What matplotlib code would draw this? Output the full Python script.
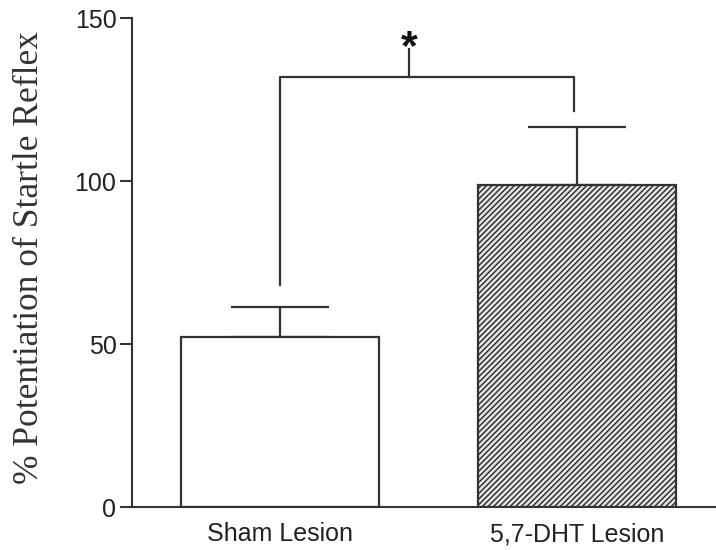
import numpy as np
import matplotlib
matplotlib.use('Agg')
import matplotlib.pyplot as plt

# Dane
groups = ['Sham Lesion', '5,7-DHT Lesion']
means = [52.2, 98.8]
sem = [9.1, 17.9]
bracket_x = [0.0, 0.0, 0.99, 0.99]
bracket_y = [68.1, 132.0, 132.0, 121.6]
star_x = 0.435
star_tick = [132.0, 140.5]
y_ticks = [0, 50, 100, 150]

plt.rcParams['hatch.color'] = '#707070'
plt.rcParams['hatch.linewidth'] = 1.1

fig = plt.figure(figsize=(7.16, 5.5), dpi=100)
ax = fig.add_axes([0.184, 0.078, 0.816, 0.889])

x = np.arange(len(groups))
dark = '#333333'
ax.bar(x[0], means[0], width=0.667, color='white', edgecolor=dark, linewidth=1.6, zorder=2)
ax.bar(x[1], means[1], width=0.667, color='#e6e6e6', edgecolor=dark, linewidth=1.6,
       hatch='//////', zorder=2)
ax.errorbar(x, means, yerr=[np.zeros(len(sem)), sem], fmt='none', ecolor=dark,
            elinewidth=1.6, capsize=35.5, capthick=1.6, zorder=1)

# Nawias istotności
ax.plot(bracket_x, bracket_y, color=dark, linewidth=1.6, clip_on=False)
ax.plot([star_x, star_x], star_tick, color=dark, linewidth=1.6, clip_on=False)
ax.text(star_x, 137.5, '*', ha='center', va='baseline', fontsize=31,
        fontweight='bold', family='Liberation Sans', color='#111111')

ax.set_xlim(-0.5, 1.468)
ax.set_ylim(0, 150)
ax.set_yticks(y_ticks)
ax.set_xticks(x)
ax.set_xticklabels(groups)

for s in ['top', 'right']:
    ax.spines[s].set_visible(False)
for s in ['left', 'bottom']:
    ax.spines[s].set_linewidth(1.5)
    ax.spines[s].set_color(dark)

ax.tick_params(axis='y', length=9, width=1.5, color=dark, pad=2,
               labelsize=18, labelcolor='#222222')
ax.tick_params(axis='x', length=0, pad=11, labelsize=18, labelcolor='#222222')
for lbl in ax.get_xticklabels() + ax.get_yticklabels():
    lbl.set_family('Liberation Sans')

ax.set_ylabel('% Potentiation of Startle Reflex', family='Liberation Serif',
              fontsize=25.5, color='#333333')
ax.yaxis.set_label_coords(-0.146, 0.51)

fig.savefig('out.png', dpi=100)
